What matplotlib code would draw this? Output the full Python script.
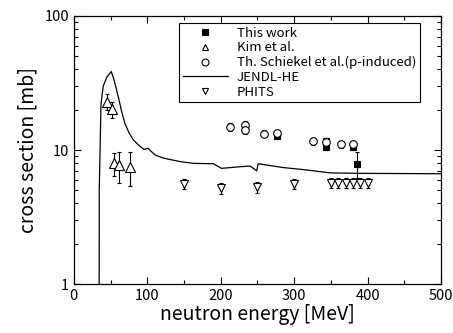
import matplotlib
matplotlib.use("Agg")
import matplotlib.pyplot as plt
from matplotlib.lines import Line2D

plt.rcParams['font.family'] = ['Noto Sans CJK JP', 'DejaVu Sans']

# This work
tw_e = [277, 343, 343, 380, 386]
tw_s = [12.7, 10.6, 11.6, 10.6, 7.9]
tw_err = [0.6, 0.6, 0.6, 0.6, 1.7]

# Kim et al.
kim_e = [45.5, 52.3, 54.5, 61.8, 76.4]
kim_s = [23.0, 20.1, 7.95, 7.7, 7.5]
kim_err = [3.0, 2.8, 1.6, 2.0, 2.1]

# Th. Schiekel et al. (p-induced)
sch_e = [212.7, 233, 233, 259.5, 277, 326, 343.6, 363.6, 380]
sch_s = [14.9, 15.5, 14.1, 13.2, 13.4, 11.6, 11.5, 11.0, 11.1]
sch_err = [1.0, 1.0, 1.0, 0.8, 0.8, 0.7, 0.7, 0.6, 0.6]

# JENDL-HE
jendl_e = [34.5, 34.6, 37, 40, 45, 51, 55, 60.5, 65, 69.5, 75, 81, 88, 95.5, 101, 105,
           110.5, 122, 144.5, 163, 190, 201, 226, 240, 249, 251, 285, 317, 349, 386, 500]
jendl_s = [1.0, 5.0, 22, 30, 35, 38.5, 33, 25, 19.5, 15.8, 13.5, 11.9, 10.9, 10.1, 10.3, 9.8,
           9.2, 8.7, 8.2, 7.95, 7.9, 7.3, 7.5, 7.6, 7.0, 7.9, 7.4, 7.1, 6.75, 6.7, 6.65]

# PHITS
ph_e = [150, 200, 250, 300, 350, 360, 370, 380, 390, 400]
ph_s = [5.6, 5.2, 5.3, 5.6, 5.7, 5.7, 5.7, 5.7, 5.7, 5.7]
ph_err = [0.5, 0.5, 0.5, 0.5, 0.5, 0.5, 0.5, 0.5, 0.5, 0.5]

fig = plt.figure(figsize=(4.53, 3.33), dpi=100)
ax = fig.add_axes([0.163, 0.147, 0.8105, 0.805])

eb = dict(ls='none', ecolor='black', elinewidth=0.8, capsize=1.3, capthick=0.8,
          markeredgewidth=0.8)

ax.plot(jendl_e, jendl_s, color='black', lw=0.9)
ax.errorbar(tw_e, tw_s, yerr=tw_err, fmt='s', color='black', mfc='black',
            mec='black', markersize=4.5, **eb)
ax.errorbar(kim_e, kim_s, yerr=kim_err, fmt='^', mfc='white', mec='black',
            markersize=6.5, **eb)
ax.errorbar(sch_e, sch_s, yerr=sch_err, fmt='o', mfc='white', mec='black',
            markersize=5.5, **eb)
ax.errorbar(ph_e, ph_s, yerr=ph_err, fmt='v', mfc='white', mec='black',
            markersize=6, **eb)

ax.set_yscale('log')
ax.set_xlim(0, 500)
ax.set_ylim(1, 100)
ax.set_xticks([0, 100, 200, 300, 400, 500])
ax.set_xticks(range(50, 500, 100), minor=True)
ax.set_yticks([1, 10, 100])
ax.set_yticklabels(['1', '10', '100'])
ax.tick_params(which='both', direction='in', top=True, right=True, labelsize=10.5,
               width=0.8)
ax.tick_params(which='major', length=5)
ax.tick_params(which='minor', length=3)
for s in ax.spines.values():
    s.set_linewidth(0.9)

ax.set_xlabel('neutron energy [MeV]', fontsize=14, labelpad=1)
ax.set_ylabel('cross section [mb]', fontsize=14, labelpad=4)

mk = dict(ls='none', color='black', markersize=5, markeredgewidth=0.8)
handles = [
    Line2D([], [], marker='s', mfc='black', **mk),
    Line2D([], [], marker='^', mfc='white', **mk),
    Line2D([], [], marker='o', mfc='white', **mk),
    Line2D([], [], color='black', lw=0.9),
    Line2D([], [], marker='v', mfc='white', **mk),
]
labels = ['This work', 'Kim et al.', 'Th. Schiekel et al.(p-induced)', 'JENDL-HE', 'PHITS']
leg = ax.legend(handles, labels, loc='upper left', bbox_to_anchor=(0.286, 0.974),
                borderaxespad=0, fontsize=9.5, frameon=True, fancybox=False,
                edgecolor='black', framealpha=1, borderpad=0.3, labelspacing=0.12,
                handlelength=3.4, handletextpad=0.7)
leg.get_frame().set_linewidth(0.8)

fig.savefig('out.png', dpi=100)
